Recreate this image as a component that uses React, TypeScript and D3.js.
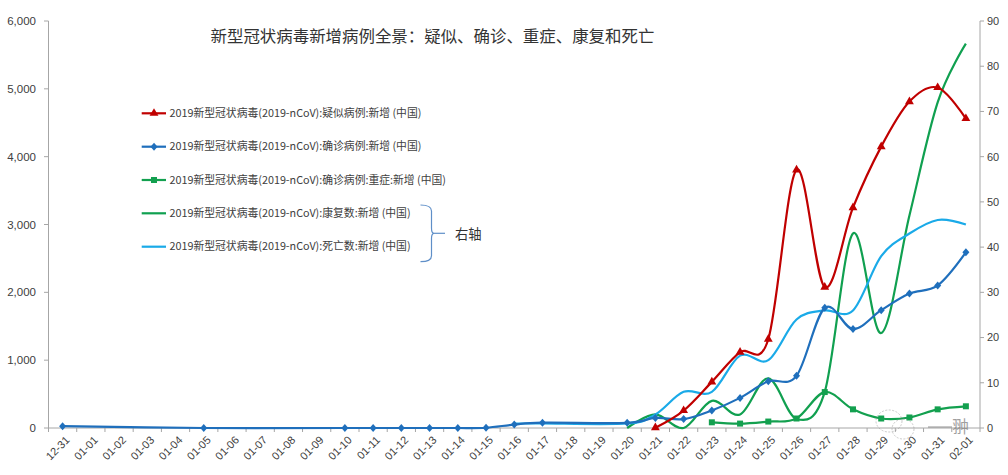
import React from "react";
import * as d3 from "d3";

const dates = [
  "12-31", "01-01", "01-02", "01-03", "01-04", "01-05", "01-06", "01-07", "01-08", "01-09",
  "01-10", "01-11", "01-12", "01-13", "01-14", "01-15", "01-16", "01-17", "01-18", "01-19",
  "01-20", "01-21", "01-22", "01-23", "01-24", "01-25", "01-26", "01-27", "01-28", "01-29",
  "01-30", "01-31", "02-01",
];

// left axis series (date -> value); missing dates are not reported
const suspectedDates = ["01-21", "01-22", "01-23", "01-24", "01-25", "01-26", "01-27", "01-28", "01-29", "01-30", "01-31", "02-01"];
const suspectedValues = [5, 257, 680, 1118, 1309, 3806, 2077, 3248, 4148, 4812, 5019, 4562];

const confirmedDates = ["12-31", "01-05", "01-10", "01-11", "01-12", "01-13", "01-14", "01-15", "01-16", "01-17", "01-20", "01-21", "01-22", "01-23", "01-24", "01-25", "01-26", "01-27", "01-28", "01-29", "01-30", "01-31", "02-01"];
const confirmedValues = [27, 0, 0, 0, 0, 0, 0, 4, 50, 78, 77, 149, 131, 259, 444, 688, 769, 1771, 1459, 1737, 1982, 2102, 2590];

const severeDates = ["01-23", "01-24", "01-25", "01-26", "01-27", "01-28", "01-29", "01-30", "01-31", "02-01"];
const severeValues = [84, 65, 95, 140, 530, 275, 140, 155, 275, 320];

// right axis series
const recoveredDates = ["01-20", "01-21", "01-22", "01-23", "01-24", "01-25", "01-26", "01-27", "01-28", "01-29", "01-30", "01-31", "02-01"];
const recoveredValues = [0, 3, 0, 6, 3, 11, 2, 8, 43, 21, 47, 72, 85];

const deathDates = ["01-16", "01-17", "01-20", "01-21", "01-22", "01-23", "01-24", "01-25", "01-26", "01-27", "01-28", "01-29", "01-30", "01-31", "02-01"];
const deathValues = [1, 1, 1, 3, 8, 8, 16, 15, 24, 26, 26, 38, 43, 46, 45];

const leftTicks = [0, 1000, 2000, 3000, 4000, 5000, 6000];
const rightTicks = [0, 10, 20, 30, 40, 50, 60, 70, 80, 90];

const legendLabels = [
  "2019新型冠状病毒(2019-nCoV):疑似病例:新增 (中国)",
  "2019新型冠状病毒(2019-nCoV):确诊病例:新增 (中国)",
  "2019新型冠状病毒(2019-nCoV):确诊病例:重症:新增 (中国)",
  "2019新型冠状病毒(2019-nCoV):康复数:新增 (中国)",
  "2019新型冠状病毒(2019-nCoV):死亡数:新增 (中国)",
];

const title = "新型冠状病毒新增病例全景：疑似、确诊、重症、康复和死亡";

const W = 1008;
const H = 475;
const FONT = "'Liberation Sans', Arial, 'Noto Sans CJK SC', sans-serif";
const CJK = "'Noto Sans CJK SC', 'Liberation Sans', sans-serif";

const RED = "#c00000";
const BLUE = "#1f6fbc";
const GREEN = "#13a04f";
const GREEN2 = "#10a050";
const LBLUE = "#1aaae8";
const AXIS = "#a6a6a6";
const TEXT = "#404040";

export default function App() {
  const x = d3.scaleBand<string>().domain(dates).range([48.5, 980]).padding(0);
  const cx = (d: string) => (x(d) as number) + x.bandwidth() / 2;
  const yL = d3.scaleLinear().domain([0, 6000]).range([428, 21]);
  const yR = d3.scaleLinear().domain([0, 90]).range([428, 21]);

  const mk = (ds: string[], vs: number[]) => ds.map((d, i) => ({ d, v: vs[i] }));
  const suspected = mk(suspectedDates, suspectedValues);
  const confirmed = mk(confirmedDates, confirmedValues);
  const severe = mk(severeDates, severeValues);
  const recovered = mk(recoveredDates, recoveredValues);
  const deaths = mk(deathDates, deathValues);

  const curve = d3.curveCatmullRom.alpha(0);
  const lineL = d3.line<{ d: string; v: number }>().x((p) => cx(p.d)).y((p) => yL(p.v)).curve(curve);
  const lineR = d3.line<{ d: string; v: number }>().x((p) => cx(p.d)).y((p) => yR(p.v)).curve(curve);

  const tri = d3.symbol().type(d3.symbolTriangle).size(34)() as string;
  const dia = "M0,-4L3.5,0L0,4L-3.5,0Z";
  const sq = "M-3,-3H3V3H-3Z";

  const legendRowsY = [113.3, 146.7, 180, 213.3, 246.7];
  const legendColors = [RED, BLUE, GREEN, GREEN2, LBLUE];
  const legendMarkers = [tri, dia, sq, null, null];

  return (
    <svg width={W} height={H} style={{ position: "absolute", left: 0, top: 0, background: "#fff" }}>
      <rect x={0} y={0} width={W} height={H} fill="#fff" />
      <text x={210.5} y={42} fontFamily={CJK} fontSize={16.45} fill="#333">{title}</text>

      {/* left axis */}
      <line x1={48.5} x2={48.5} y1={21} y2={428} stroke={AXIS} />
      {leftTicks.map((t) => (
        <g key={"l" + t}>
          <line x1={44} x2={48.5} y1={yL(t)} y2={yL(t)} stroke={AXIS} />
          <text x={36} y={yL(t)} dy="0.35em" textAnchor="end" fontFamily={FONT} fontSize={11.5} fill={TEXT}>
            {d3.format(",")(t)}
          </text>
        </g>
      ))}

      {/* right axis */}
      <line x1={980} x2={980} y1={21} y2={428} stroke={AXIS} />
      {rightTicks.map((t) => (
        <g key={"r" + t}>
          <line x1={980} x2={984} y1={yR(t)} y2={yR(t)} stroke={AXIS} />
          <text x={987} y={yR(t)} dy="0.35em" textAnchor="start" fontFamily={FONT} fontSize={11} fill={TEXT}>
            {t}
          </text>
        </g>
      ))}

      {/* x axis */}
      <line x1={48.5} x2={980} y1={428} y2={428} stroke={AXIS} />
      {dates.map((d) => (
        <line key={"xt" + d} x1={x(d) as number} x2={x(d) as number} y1={428} y2={432} stroke={AXIS} />
      ))}
      <line x1={980} x2={980} y1={428} y2={432} stroke={AXIS} />
      {dates.map((d) => (
        <text
          key={"xl" + d}
          transform={`translate(${cx(d) + 5},${438}) rotate(-45)`}
          textAnchor="end"
          dy="0.35em"
          fontFamily={FONT}
          fontSize={11}
          fill={TEXT}
        >
          {d}
        </text>
      ))}

      {/* series */}
      <path d={lineR(recovered) as string} fill="none" stroke={GREEN2} strokeWidth={2.2} />
      <path d={lineR(deaths) as string} fill="none" stroke={LBLUE} strokeWidth={2.2} />
      <path d={lineL(severe) as string} fill="none" stroke={GREEN} strokeWidth={2.2} />
      {severe.map((p) => (
        <path key={"s" + p.d} d={sq} transform={`translate(${cx(p.d)},${yL(p.v)})`} fill={GREEN} />
      ))}
      <path d={lineL(confirmed) as string} fill="none" stroke={BLUE} strokeWidth={2.2} />
      {confirmed.map((p) => (
        <path key={"c" + p.d} d={dia} transform={`translate(${cx(p.d)},${yL(p.v)})`} fill={BLUE} />
      ))}
      <path d={lineL(suspected) as string} fill="none" stroke={RED} strokeWidth={2.2} />
      {suspected.map((p) => (
        <path key={"u" + p.d} d={tri} transform={`translate(${cx(p.d)},${yL(p.v)})`} fill={RED} />
      ))}

      {/* legend */}
      {legendLabels.map((lab, i) => (
        <g key={"lg" + i}>
          <line x1={141.7} x2={166} y1={legendRowsY[i]} y2={legendRowsY[i]} stroke={legendColors[i]} strokeWidth={2.2} />
          {legendMarkers[i] && (
            <path d={legendMarkers[i] as string} transform={`translate(154,${legendRowsY[i]})`} fill={legendColors[i]} />
          )}
          <text x={169.5} y={legendRowsY[i]} dy="0.35em" fontFamily={CJK} fontSize={10.8} fill={TEXT}>
            {lab}
          </text>
        </g>
      ))}

      {/* bracket */}
      <path
        d="M420.5,205 Q431.5,205 431.5,211 L431.5,228 Q431.5,233.3 434,233.3 Q431.5,233.3 431.5,238.6 L431.5,255.7 Q431.5,261.7 420.5,261.7"
        fill="none"
        stroke="#5f8fc8"
        strokeWidth={1.2}
      />
      <line x1={433.5} x2={445} y1={233.3} y2={233.3} stroke="#5f8fc8" strokeWidth={1.2} />
      <text x={455} y={234.3} dy="0.35em" fontFamily={CJK} fontSize={13.3} fill="#333">右轴</text>

      {/* watermark */}
      <g opacity={0.55} fill="none" stroke="#888" strokeWidth={0.8} strokeDasharray="2,1.5">
        <ellipse cx={889} cy={421} rx={13} ry={11} />
        <ellipse cx={903} cy={429} rx={11} ry={10} />
      </g>
      <line x1={928} x2={952} y1={427} y2={427} stroke="#777" strokeWidth={1} opacity={0.8} />
      <text x={952} y={427} dy="0.35em" fontFamily={CJK} fontSize={17} fill="#888" opacity={0.8}>翀</text>
    </svg>
  );
}
